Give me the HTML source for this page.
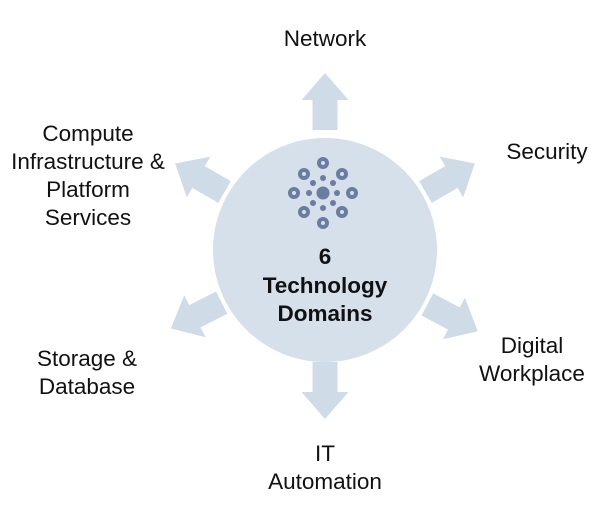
<!DOCTYPE html>
<html><head><style>
html,body{margin:0;padding:0;background:#fff;}
svg{display:block;}
text{font-family:"Liberation Sans",Arial,sans-serif;font-size:22.5px;fill:#111;}
.b{font-weight:bold;}
</style></head><body>
<svg width="603" height="507" viewBox="0 0 603 507">
<defs>
<polygon id="ar" points="116,-12.5 146,-12.5 146,-23.5 173,0 146,23.5 146,12.5 116,12.5" fill="#cfdbe7"/>
</defs>
<g transform="translate(325,250)">
<use href="#ar" transform="rotate(-90) translate(4,0)"/>
<use href="#ar" transform="rotate(90) translate(-4,0)"/>
<use href="#ar" transform="rotate(-30)"/>
<use href="#ar" transform="rotate(-150)"/>
<use href="#ar" transform="rotate(153)"/>
<use href="#ar" transform="rotate(28)"/>
<circle r="112" fill="#d5e0eb"/>
</g>
<g transform="translate(323,193)" fill="#6a7ca0">
<circle r="6.5"/>
<g>
<circle cx="0" cy="-30" r="6"/><circle cx="0" cy="30" r="6"/>
<circle cx="-29" cy="0" r="6"/><circle cx="29" cy="0" r="6"/>
<circle cx="-19" cy="-19" r="6"/><circle cx="19" cy="-19" r="6"/>
<circle cx="-19" cy="19" r="6"/><circle cx="19" cy="19" r="6"/>
</g>
<g fill="#d5e0eb">
<circle cx="0" cy="-30" r="2"/><circle cx="0" cy="30" r="2"/>
<circle cx="-29" cy="0" r="2"/><circle cx="29" cy="0" r="2"/>
<circle cx="-19" cy="-19" r="2"/><circle cx="19" cy="-19" r="2"/>
<circle cx="-19" cy="19" r="2"/><circle cx="19" cy="19" r="2"/>
</g>
<circle cx="0" cy="-15" r="3"/><circle cx="0" cy="15" r="3"/>
<circle cx="-14" cy="0" r="3"/><circle cx="14" cy="0" r="3"/>
<circle cx="-10" cy="-10" r="3"/><circle cx="10" cy="-10" r="3"/>
<circle cx="-10" cy="10" r="3"/><circle cx="10" cy="10" r="3"/>
</g>
<g text-anchor="middle">
<text class="b" x="325" y="264">6</text>
<text class="b" x="325" y="293">Technology</text>
<text class="b" x="325" y="321">Domains</text>
<text x="325" y="46">Network</text>
<text x="547" y="159">Security</text>
<text x="88" y="141">Compute</text>
<text x="88" y="169">Infrastructure &amp;</text>
<text x="88" y="197">Platform</text>
<text x="88" y="225">Services</text>
<text x="87" y="366">Storage &amp;</text>
<text x="87" y="394">Database</text>
<text x="532" y="353">Digital</text>
<text x="532" y="381">Workplace</text>
<text x="325" y="461">IT</text>
<text x="325" y="489">Automation</text>
</g>
</svg>
</body></html>
